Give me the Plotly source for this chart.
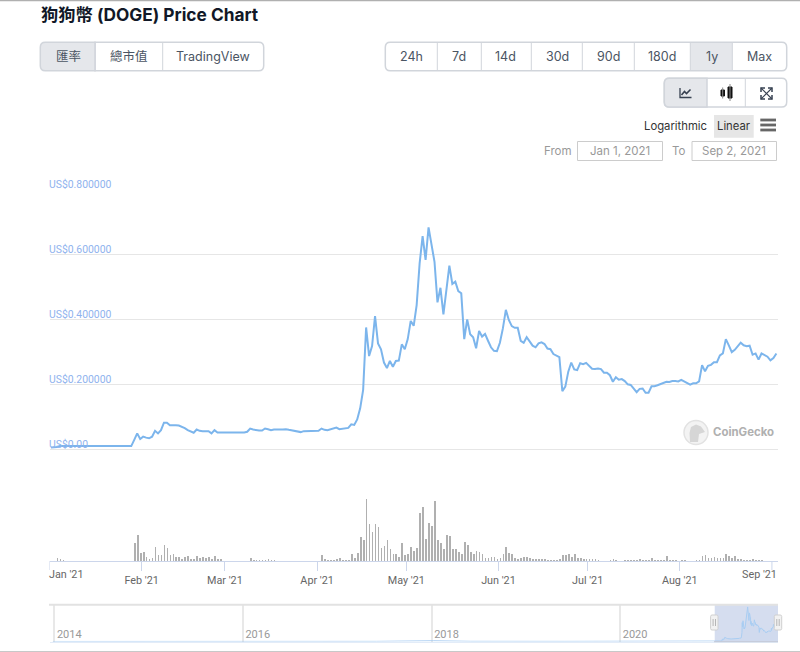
import pandas as pd
import plotly.graph_objects as go

W, H = 800, 652

# ---------- data ----------
price = [
    .005, .005, .006, .009, .009, .010, .010, .010, .010, .010,
    .010, .009, .009, .009, .009, .009, .009, .009, .009, .009,
    .009, .009, .009, .009, .008, .008, .008, .009, .028, .048,
    .031, .038, .035, .033, .038, .056, .048, .058, .081, .081,
    .073, .074, .073, .072, .069, .064, .058, .054, .050, .060,
    .056, .055, .056, .055, .048, .058, .051, .051, .051, .049,
    .051, .051, .051, .050, .050, .051, .053, .063, .060, .058,
    .057, .057, .063, .061, .058, .060, .059, .060, .060, .061,
    .059, .057, .054, .052, .052, .055, .055, .056, .056, .056,
    .056, .063, .059, .058, .060, .062, .066, .061, .063, .063,
    .065, .076, .074, .091, .125, .182, .374, .286, .317, .409,
    .325, .307, .266, .249, .271, .253, .271, .272, .322, .307,
    .338, .394, .379, .443, .571, .655, .582, .682, .633, .576,
    .451, .496, .414, .499, .564, .508, .515, .486, .479, .338,
    .399, .353, .344, .310, .363, .346, .354, .333, .313, .302,
    .301, .327, .371, .428, .397, .378, .373, .373, .333, .327,
    .344, .331, .318, .313, .325, .328, .323, .309, .307, .292,
    .288, .283, .178, .192, .238, .266, .245, .243, .264, .261,
    .265, .255, .247, .246, .248, .246, .235, .235, .227, .207,
    .221, .213, .215, .209, .199, .197, .184, .175, .185, .186,
    .173, .173, .193, .193, .196, .200, .204, .207, .206, .209,
    .209, .208, .213, .208, .204, .198, .202, .202, .208, .258,
    .239, .256, .259, .267, .267, .288, .294, .338, .319, .298,
    .305, .316, .327, .319, .316, .318, .290, .294, .275, .294,
    .288, .284, .273, .280, .294,
]
volume = [
    0, 0, 3, 1.7, .7, 0, 0, 0, 0, 0,
    0, 0, 0, 0, 0, 0, 0, 0, 0, 0,
    0, 0, 0, 0, 0, 0, 0, 0, 18, 26,
    8, 9, 4, 2, 3, 14, 6, 6, 16, 13,
    6, 7, 4, 4, 2, 4, 5, 2, 2, 5,
    3, 4, 3, 4, 2, 5, 2, 2, 0, 0,
    0, 0, 0, 0, 0, 0, 0, 3, 1, 1,
    1, 1, 1, 2, 1, 1, 0, 0, 0, 0,
    0, 0, 0, 0, 0, 0, 0, 0, 0, 0,
    0, 6, 1.5, 1, 1, 1, 2, 3, 1, 1,
    1, 7, 3, 8, 24, 21, 62, 37, 29, 37,
    34, 13, 15, 21, 12, 7, 7, 4, 18, 6,
    7, 14, 10, 13, 48, 54, 22, 38, 35, 60,
    21, 18, 12, 26, 25, 12, 12, 9, 7, 19,
    16, 9, 7, 10, 9, 7, 3, 3, 4, 4,
    2, 3, 7, 14, 8, 7, 3, 2, 3, 4,
    4, 3, 2, 2, 2, 2, 2, 1, 1, 1,
    1, 2, 6, 6, 7, 4, 7, 3, 3, 2,
    2, 2, 2, 2, 1, 0, 0, 0, 1, 2,
    1, 0, 0, 1, 1, 1, 1, 1, 2, 1,
    1, 1, 3, 1, 1, 1, 1, 5, 1, 1,
    1, 0, 1, 1, 0, 0, 0, 1, 1, 5,
    6, 3, 3, 4, 3, 3, 3, 7, 5, 3,
    5, 2, 2, 1, 1, 1, 2, 1, 1, 1,
    0, 0, 0, 0, 0,
]
assert len(price) == len(volume) == 245

price_ticks = [0, 0.2, 0.4, 0.6, 0.8]
price_tick_labels = ["US$0.00", "US$0.200000", "US$0.400000", "US$0.600000", "US$0.800000"]
month_ticks = ["2021-02-01", "2021-03-01", "2021-04-01", "2021-05-01", "2021-06-01", "2021-07-01", "2021-08-01"]
month_labels = ["Feb '21", "Mar '21", "Apr '21", "May '21", "Jun '21", "Jul '21", "Aug '21"]
year_ticks = ["2014-01-01", "2016-01-01", "2018-01-01", "2020-01-01"]
year_labels = ["2014", "2016", "2018", "2020"]
history_dates = ["2013-12-26", "2014-06-01", "2015-06-01", "2016-06-01", "2017-06-01", "2018-01-07", "2018-06-01", "2019-06-01", "2020-06-01", "2020-12-31"]
history_price = [.0005, .0004, .0002, .0002, .003, .015, .004, .003, .003, .005]

dates = pd.date_range("2021-01-01 12:00", periods=len(price), freq="D")
nav_x = list(pd.to_datetime(history_dates)) + list(dates)
nav_y = history_price + price

# ---------- pixel helpers for page furniture ----------
px = lambda x: x / W
py = lambda y: 1 - y / H
shapes, annots = [], []


def rect(x0, y0, x1, y1, fill="rgba(0,0,0,0)", line="rgba(0,0,0,0)", lw=1, layer="above"):
    shapes.append(dict(type="rect", xref="paper", yref="paper", x0=px(x0), x1=px(x1), y0=py(y1), y1=py(y0),
                       fillcolor=fill, line=dict(color=line, width=lw), layer=layer))


def seg(x0, y0, x1, y1, color, lw=1):
    shapes.append(dict(type="line", xref="paper", yref="paper", x0=px(x0), x1=px(x1), y0=py(y0), y1=py(y1),
                       line=dict(color=color, width=lw)))


def poly(points, fill=None, line="rgba(0,0,0,0)", lw=1, close=False):
    d = "M" + " L".join(f"{px(a):.5f},{py(b):.5f}" for a, b in points) + (" Z" if close else "")
    shapes.append(dict(type="path", xref="paper", yref="paper", path=d,
                       fillcolor=fill or "rgba(0,0,0,0)", line=dict(color=line, width=lw)))


def rrect(x0, y0, x1, y1, r=5, fill="rgba(0,0,0,0)", line="#d1d5db", lw=1.5, round_left=True, round_right=True):
    rl = r if round_left else 0
    rr = r if round_right else 0
    X = lambda v: f"{px(v):.5f}"
    Y = lambda v: f"{py(v):.5f}"
    d = (f"M{X(x0 + rl)},{Y(y0)} L{X(x1 - rr)},{Y(y0)} Q{X(x1)},{Y(y0)} {X(x1)},{Y(y0 + rr)} "
         f"L{X(x1)},{Y(y1 - rr)} Q{X(x1)},{Y(y1)} {X(x1 - rr)},{Y(y1)} L{X(x0 + rl)},{Y(y1)} "
         f"Q{X(x0)},{Y(y1)} {X(x0)},{Y(y1 - rl)} L{X(x0)},{Y(y0 + rl)} Q{X(x0)},{Y(y0)} {X(x0 + rl)},{Y(y0)} Z")
    shapes.append(dict(type="path", xref="paper", yref="paper", path=d, fillcolor=fill, line=dict(color=line, width=lw)))


FONT = "Inter, 'Noto Sans CJK TC', sans-serif"
AXFONT = "Roboto, sans-serif"


def text(x, y, s, size=13, color="#4b5563", anchor="center", bold=False, family=FONT):
    annots.append(dict(xref="paper", yref="paper", x=px(x), y=py(y), text=f"<b>{s}</b>" if bold else s,
                       showarrow=False, xanchor=anchor, yanchor="middle", borderpad=0,
                       font=dict(size=size, color=color, family=family)))


BTN, ACTIVE = "#d1d5db", "#e5e7eb"
seg(0, 0.5, W, 0.5, "#b0b0b0", 1.5)
seg(0, 651.5, W, 651.5, "#c8c8c8", 1)
text(40, 14.5, "狗狗幣 (DOGE) Price Chart", size=17.3, color="#111827", anchor="left", bold=True)

# button group 1
rrect(95, 42.3, 263.7, 70.7, fill="white", line=BTN, round_left=False)
rrect(40.3, 42.3, 95, 70.7, fill=ACTIVE, line=BTN, round_right=False)
seg(162.7, 42.3, 162.7, 70.7, BTN, 1)
for cx, s in [(68, "匯率"), (129, "總市值"), (213.5, "TradingView")]:
    text(cx, 56.5, s, size=12.5)

# button group 2
rrect(385.3, 42.3, 786.7, 70.7, fill="white", line=BTN)
rect(690.3, 43, 732.3, 70, fill=ACTIVE)
for xd in [437.3, 481.3, 531.3, 582.3, 634.3, 690.3, 732.3]:
    seg(xd, 42.3, xd, 70.7, BTN, 1)
for cx, s in [(411.5, "24h"), (459, "7d"), (506, "14d"), (557, "30d"), (608, "90d"), (662, "180d"), (711.5, "1y"), (759.5, "Max")]:
    text(cx, 56.5, s, size=12.5)

# button group 3
rrect(664.3, 78.3, 786.7, 107, fill="white", line=BTN)
rrect(664.3, 78.3, 707, 107, fill=ACTIVE, line=BTN, round_right=False)
seg(745.3, 78.3, 745.3, 107, BTN, 1)
poly([(680, 88), (680, 97.5), (691.5, 97.5)], line="#374151", lw=1.3)
poly([(681.5, 95), (684.5, 91.5), (686.5, 93.5), (690.5, 89.5)], line="#374151", lw=1.6)
rect(721, 90, 724.5, 96, fill="#111", line="#111")
rect(728, 87, 732, 98, fill="#111", line="#111")
seg(722.7, 87.5, 722.7, 98.5, "#888", 1)
seg(730, 84, 730, 101, "#888", 1)
for (a, b, c, d) in [(761, 88, 772, 99), (772, 88, 761, 99)]:
    seg(a, b, c, d, "#374151", 1.1)
for (a, b, sx, sy) in [(761, 88, 1, 1), (772, 88, -1, 1), (761, 99, 1, -1), (772, 99, -1, -1)]:
    poly([(a + 4 * sx, b), (a, b), (a, b + 4 * sy)], line="#374151", lw=1.5)

# scale switch + range inputs
text(675.5, 126, "Logarithmic", size=11.3, color="#333333")
rect(714, 115, 753.7, 137.7, fill="#e6e6e6")
text(733.8, 126, "Linear", size=11.3, color="#333333")
for yy in [120, 125, 130]:
    rect(760.3, yy - 1.4, 776, yy + 1.4, fill="#666666")
text(557.5, 151, "From", size=11.5, color="#999999")
text(679, 151, "To", size=11.5, color="#999999")
rect(577.5, 141.5, 662.5, 160.5, line="#cccccc")
rect(692, 141.5, 776.5, 160.5, line="#cccccc")
text(620, 151, "Jan 1, 2021", size=11.5, color="#999999")
text(734, 151, "Sep 2, 2021", size=11.5, color="#999999")

# CoinGecko watermark
shapes.append(dict(type="circle", xref="paper", yref="paper", x0=px(684), x1=px(708), y0=py(444.5), y1=py(420.5),
                   fillcolor="#f3f3f3", line=dict(color="#e2e2e2", width=1.5)))
poly([(690, 442), (689.5, 433), (691, 427), (696, 424.5), (701, 426.5), (705, 432), (699, 434), (698, 442)],
     fill="#d6d6d6", close=True)
text(712, 432, "CoinGecko", size=11.4, color="#b0b0b0", anchor="left", bold=True)

# y labels sit on the plot, left aligned just above their gridlines
for val, lab in zip(price_ticks, price_tick_labels):
    annots.append(dict(xref="paper", yref="y", x=px(49.5), y=val, text=lab, showarrow=False, xanchor="left",
                       yanchor="middle", yshift=5, xshift=-2, borderpad=0,
                       font=dict(size=10.4, color="#8fb3ee", family=AXFONT)))

# x labels pushed inside the plot edges
XEND = "2021-09-03 01:00"
annots.append(dict(xref="x2", yref="paper", x="2021-01-01", y=py(574.5), text="Jan '21", showarrow=False, xanchor="left",
                   yanchor="middle", xshift=-2, font=dict(size=10.8, color="#666666", family=AXFONT), borderpad=0))
annots.append(dict(xref="x2", yref="paper", x=XEND, y=py(574.5), text="Sep '21", showarrow=False, xanchor="right",
                   yanchor="middle", font=dict(size=10.8, color="#666666", family=AXFONT), borderpad=0))

# navigator frame, selection and handles
seg(49, 604.8, 778, 604.8, "#e2e2e2", 2)
shapes.append(dict(type="rect", xref="x3", yref="paper", x0="2021-01-01", x1=XEND, y0=py(641.7), y1=py(604.7),
                   fillcolor="#d5ddef", line=dict(width=0), layer="below"))
seg(714, 641.7, 778, 641.7, "#c0c7d6", 1)
for cx in (714.3, 778):
    rrect(cx - 3.7, 615, cx + 3.7, 630, r=1.5, fill="#f2f2f2", line="#d0d0d0", lw=1)
    seg(cx - 1.2, 619, cx - 1.2, 626, "#b5b5b5", 1)
    seg(cx + 1.2, 619, cx + 1.2, 626, "#b5b5b5", 1)

# ---------- figure ----------
fig = go.Figure()
fig.add_trace(go.Scatter(x=dates, y=price, mode="lines", name="Price", xaxis="x", yaxis="y",
                         line=dict(color="#7cb5ec", width=2)))
fig.add_trace(go.Bar(x=dates, y=volume, name="Volume", xaxis="x2", yaxis="y2",
                     marker=dict(color="#b0b0b0", line=dict(width=0)), width=1000 * 3600 * 24 * 0.25))
fig.add_trace(go.Scatter(x=nav_x, y=nav_y, mode="lines", name="Navigator", xaxis="x3", yaxis="y3",
                         line=dict(color="#a9cdf2", width=1), fill="tozeroy", fillcolor="rgba(124,181,236,0.05)"))

xr = ["2021-01-01", XEND]
fig.update_layout(
    width=W, height=H, margin=dict(l=0, r=0, t=0, b=0), autosize=False, showlegend=False,
    paper_bgcolor="white", plot_bgcolor="white", bargap=0,
    font=dict(family=AXFONT, color="#666666", size=11),
    shapes=shapes, annotations=annots,
    xaxis=dict(domain=[px(49.5), px(778)], range=xr, anchor="y", showticklabels=False, ticks="", showgrid=False, zeroline=False),
    yaxis=dict(domain=[py(449), py(189)], range=[0, 0.8], anchor="x", tickmode="array", tickvals=price_ticks,
               showticklabels=False, ticks="", showgrid=True, gridcolor="#e6e6e6",
               gridwidth=1, zeroline=True, zerolinecolor="#e6e6e6", zerolinewidth=1),
    xaxis2=dict(domain=[px(49.5), px(778)], range=xr, anchor="y2", tickmode="array", tickvals=month_ticks,
                ticktext=month_labels, ticks="outside", ticklen=9, tickcolor="#ccd6eb", tickwidth=1, showgrid=False,
                showline=True, linecolor="#ccd6eb", linewidth=1, zeroline=False,
                tickfont=dict(size=10.8, color="#666666", family=AXFONT)),
    yaxis2=dict(domain=[py(561), py(499)], range=[0, 62], anchor="x2", visible=False),
    xaxis3=dict(domain=[px(49.5), px(778)], range=["2013-12-13", XEND], anchor="y3", tickmode="array", tickvals=year_ticks,
                ticktext=year_labels, ticklabelposition="inside right", ticks="", showgrid=True, gridcolor="#e8e8e8", gridwidth=1.5,
                showline=True, linecolor="#e3ecf8", linewidth=1, zeroline=False, ticklabelshift=2, ticklabelstandoff=-2,
                tickfont=dict(size=11, color="#999999", family=AXFONT)),
    yaxis3=dict(domain=[py(641.5), py(605)], range=[0, 0.72], anchor="x3", visible=False),
)
fig.add_shape(type="line", xref="x2", yref="paper", x0="2021-01-01", x1="2021-01-01", y0=py(561), y1=py(570),
              line=dict(color="#ccd6eb", width=1))
fig.add_shape(type="line", xref="x2", yref="paper", x0="2021-09-01", x1="2021-09-01", y0=py(561), y1=py(570),
              line=dict(color="#ccd6eb", width=1))

fig.write_html("out.html", config=dict(displayModeBar=False),
               post_script="document.body.style.margin='0';document.body.style.overflow='hidden';")
